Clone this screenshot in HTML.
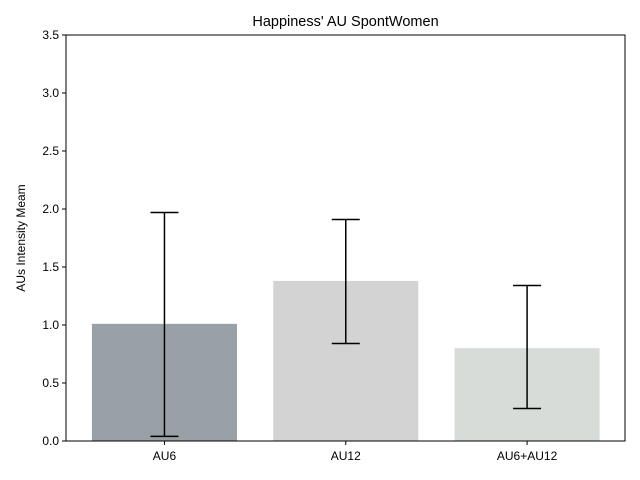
<!DOCTYPE html>
<html><head><meta charset="utf-8"><style>body{margin:0;background:#fff}svg{display:block;font-family:"Liberation Sans","DejaVu Sans",sans-serif}</style></head>
<body>
<svg id="chart" width="640" height="480" viewBox="0 0 640 480">
<text x="345.5" y="26" text-anchor="middle" font-size="14.5">Happiness' AU SpontWomen</text>
<text transform="translate(25,238) rotate(-90)" text-anchor="middle" font-size="12">AUs Intensity Meam</text>
<g id="bars"></g><g id="axes"></g>
</svg>
<script>
const categories = ["AU6","AU12","AU6+AU12"];
const means = [1.01,1.38,0.80];
const errLow = [0.04,0.84,0.28];
const errHigh = [1.97,1.91,1.34];
const colors = ["#99a0a6","#d3d3d3","#d7dcd9"];
const yTicks = ["0.0","0.5","1.0","1.5","2.0","2.5","3.0","3.5"];
const L=66,R=625,T=35,B=441,x0=-0.543,x1=2.54,yMax=3.5;
const xs=v=>L+(v-x0)/(x1-x0)*(R-L);
const ys=v=>B-v/yMax*(B-T);
const NS="http://www.w3.org/2000/svg";
function mk(tag,at,parent){const e=document.createElementNS(NS,tag);for(const k in at)e.setAttribute(k,at[k]);parent.appendChild(e);return e;}
const bars=document.getElementById('bars'),axes=document.getElementById('axes');
categories.forEach((c,i)=>{
  const r=mk('rect',{x:xs(i-0.4),y:ys(means[i]),width:xs(i+0.4)-xs(i-0.4),height:B-ys(means[i]),fill:colors[i]},bars);
  
  
  const g=mk('g',{stroke:'#000','stroke-width':1.5},bars);
  
  
  const cx=xs(i);
  mk('line',{x1:cx,x2:cx,y1:ys(errLow[i]),y2:ys(errHigh[i])},g);
  mk('line',{x1:cx-14,x2:cx+14,y1:ys(errLow[i]),y2:ys(errLow[i])},g);
  mk('line',{x1:cx-14,x2:cx+14,y1:ys(errHigh[i]),y2:ys(errHigh[i])},g);
  mk('line',{x1:cx,x2:cx,y1:B,y2:B+4,stroke:'#000'},axes);
  const t=mk('text',{x:cx,y:B+19,'text-anchor':'middle','font-size':12},axes);
  t.textContent=c;
  
  
});
yTicks.forEach(s=>{
  const y=ys(parseFloat(s));
  mk('line',{x1:L-4,x2:L,y1:y,y2:y,stroke:'#000'},axes);
  const t=mk('text',{x:L-7,y:y+4,'text-anchor':'end','font-size':12},axes);
  t.textContent=s;
  
  
});
const f=mk('rect',{x:L,y:T,width:R-L,height:B-T,fill:'none',stroke:'#000','stroke-width':1},axes);


</script>
</body></html>
